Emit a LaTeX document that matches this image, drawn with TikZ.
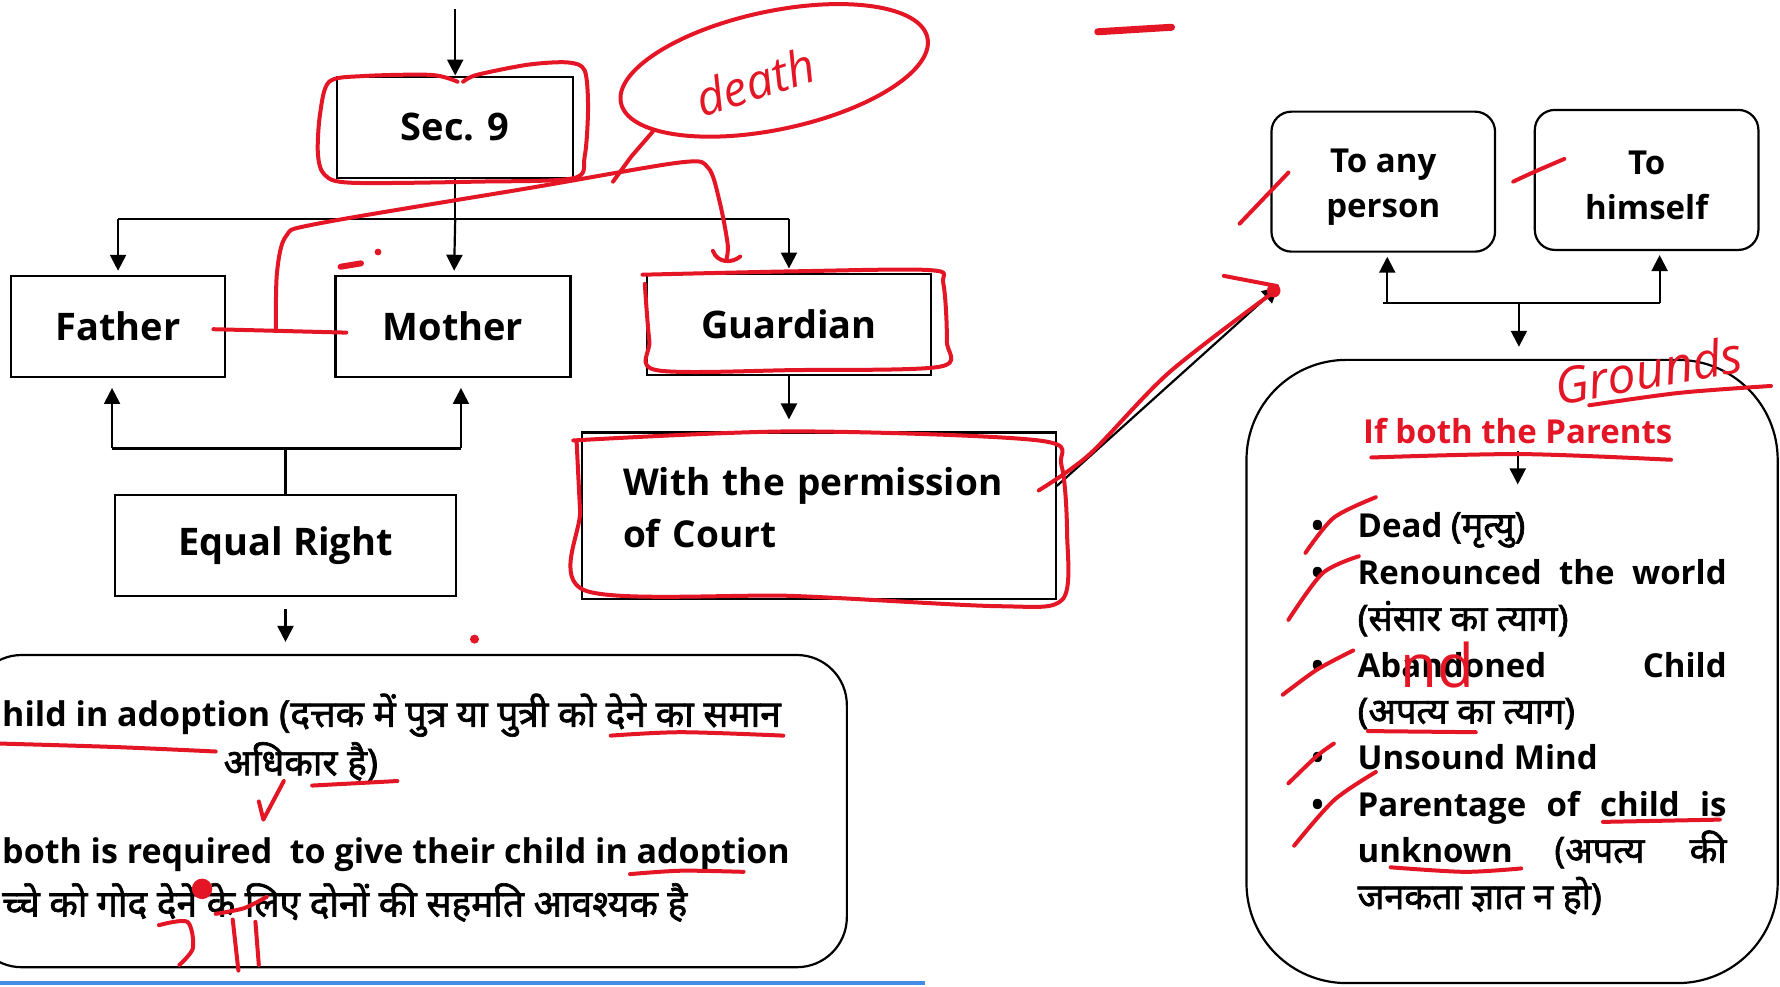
\documentclass[tikz,border=0pt]{standalone}
\usepackage{fontspec}
\setmainfont{Open Sans}
\newfontfamily\hin[Script=Devanagari,AutoFakeBold=1.8,Scale=1.09]{Noto Sans}
\usetikzlibrary{arrows.meta}
\definecolor{ink}{RGB}{228,22,38}
\definecolor{scr}{RGB}{70,140,230}
\newcommand\hi[1]{{\hin #1}}
\newcommand\itm{\par\leavevmode\llap{\textbullet\hspace{17pt}}}

\begin{document}
\begin{tikzpicture}[x=0.5676pt,y=-0.5676pt,>={Triangle[length=8pt,width=8pt]},
  line width=1.1pt,
  box/.style={draw,rectangle,inner sep=0pt,minimum height=50.5pt,
    font=\bfseries\fontsize{19}{24}\selectfont},
  rbox/.style={draw,rounded corners=10pt,inner sep=0pt,
    minimum width=111.8pt,minimum height=70pt},
  rtxt/.style={inner sep=0pt,align=center,font=\bfseries\fontsize{16.5}{22.5}\selectfont},
  txt/.style={inner sep=0pt,font=\bfseries\fontsize{17}{20}\selectfont},
  pen/.style={draw=ink,line width=2pt,line cap=round,line join=round}]
  \clip (0,0) rectangle (1568,869);
  \fill[white] (0,0) rectangle (1568,869);

  % boxes
  \node[box,minimum width=118pt] (sec) at (401,112) {Sec. 9};
  \node[box,minimum width=106.7pt] (fa) at (104,287.5) {Father};
  \node[box,minimum width=117.5pt] (mo) at (399,287.5) {Mother};
  \node[box,minimum width=141.9pt] (gu) at (695,285.5) {Guardian};
  \node[box,minimum width=170.8pt] (eq) at (251.5,480.5) {Equal Right};
  \node[box,minimum width=236.7pt,minimum height=83.4pt,text width=196pt,align=left,
    font=\bfseries\fontsize{18.5}{26}\selectfont] (pc) at (721.5,454.5)
    {With the permission\\of Court\vspace{8pt}};
  \node[rbox] (ta) at (1218.5,160) {};
  \node[rbox] (th) at (1450.5,158.5) {};
  \node[rtxt] (tat) at (1218.5,165) {To any\\person};
  \node[rtxt] (tht) at (1450.5,163) {To\\himself};
  \node[draw,rounded corners=25pt,minimum width=437.6pt,minimum height=156.1pt] (bl)
    at (360.5,714.5) {};
  \node[draw,rounded corners=50pt,minimum width=265.6pt,minimum height=311.6pt] (gr)
    at (1332,591.5) {};

  % texts of the big boxes
  \node[txt,anchor=west] (t1) at (1,630)
    {hild in adoption \hi{(दत्तक में पुत्र या पुत्री को देने का समान}};
  \node[txt] (t2) at (265,671) {\hi{अधिकार है)}};
  \node[txt,anchor=west] (t3) at (1,753) {both is required\ \ to give their child in adoption};
  \node[txt,anchor=west] (t4) at (1,795) {\hi{च्चे को गोद देने के लिए दोनों की सहमति आवश्यक है}};
  \node[txt,text=ink,font=\bfseries\fontsize{16.5}{20}\selectfont] (ifb) at (1337,380)
    {If both the Parents};
  \node[anchor=north west,inner sep=0pt,text width=184.5pt,align=justify,
    font=\bfseries\fontsize{16.5}{23.2}\selectfont] (ls) at (1195,432)
    {\parindent=0pt\hyphenpenalty=10000\tolerance=9999
    \itm Dead \hi{(मृत्यु)}
    \itm Renounced the world\linebreak \hi{(संसार का त्याग)}
    \itm Abandoned Child\linebreak \hi{(अपत्य का त्याग)}
    \itm Unsound Mind
    \itm Parentage of child is\linebreak unknown \hi{(अपत्य की}\linebreak
    \hi{जनकता ज्ञात न हो)}\par};

  % connectors
  \coordinate (in) at (401,8);
  \coordinate (bus) at (401,193);
  \coordinate (eqbus) at (251.5,395);
  \coordinate (fork) at (1338,267);
  \draw[->] (in) -- (sec);
  \draw (sec) -- (bus);
  \draw (fa |- bus) -- (gu |- bus);
  \draw[->,shorten >=2pt] (fa |- bus) -- (fa);
  \draw[->,shorten >=2pt] (bus) -- (mo);
  \draw[->,shorten >=2pt] (gu |- bus) -- (gu);
  \draw[->,shorten >=5pt] ([xshift=-3pt]fa.south |- eqbus) -- ([xshift=-3pt]fa.south);
  \draw[->,shorten >=5pt] ([xshift=4pt]mo.south |- eqbus) -- ([xshift=4pt]mo.south);
  \draw ([xshift=-3pt]fa.south |- eqbus) -- ([xshift=4pt]mo.south |- eqbus);
  \draw (eq) -- (eq |- eqbus);
  \draw[->,shorten <=6pt,shorten >=6pt] (eq) -- (eq |- bl.north);
  \draw[->,shorten >=6pt] (gu) -- (gu |- pc.north);
  \draw[->] ([yshift=15pt]pc.east) -- ([xshift=4pt,yshift=-17pt]ta.south west);
  \draw (ta |- fork) -- ([xshift=6.5pt]th.south |- fork);
  \draw[->,shorten >=2pt] ([xshift=2pt]ta.south |- fork) -- ([xshift=2pt]ta.south);
  \draw[->,shorten >=2pt] ([xshift=6.5pt]th.south |- fork) -- ([xshift=6.5pt]th.south);
  \draw[->,shorten >=6pt] (fork) -- (fork |- gr.north);
  \draw[->,shorten <=3pt,shorten >=3pt] (ifb) -- (ifb |- ls.north);

  % red pen marks
  \draw[pen] plot[smooth] coordinates {(403,72) (380,66) (320,67) (290,72) (282,100)
    (280,135) (286,154) (310,161) (420,160) (505,157) (515,138) (518,95) (515,62)
    (500,55) (465,57) (420,66) (408,72)};
  \draw[pen,rotate around={12:(682,62)}] (682,62) ellipse [x radius=138,y radius=52];
  \node[text=ink,font=\itshape\fontsize{24}{24}\selectfont,rotate=18] (dth) at (665,72) {death};
  \draw[pen] (575,116) -- (556,138) -- (540,160);
  \draw[pen] (188,290) -- (305,293);
  \draw[pen] plot[smooth] coordinates {(243,290) (244,240) (252,208) (280,197) (470,165)
    (600,143) (624,148) (634,178) (641,215) (640,228)};
  \draw[pen] (628,221) .. controls (632,232) and (645,232) .. (652,226);
  \draw[pen,line width=3pt] (300,235) -- (318,232);
  \fill[ink] (333,222) circle (3);
  \draw[pen] plot[smooth] coordinates {(566,242) (700,239) (820,238) (831,250) (834,300)
    (828,323) (700,326) (578,326) (572,300) (568,250)};
  \draw[pen] plot[smooth] coordinates {(505,388) (700,380) (915,388) (935,410) (940,470)
    (936,528) (880,534) (700,525) (515,520) (511,450) (508,390)};
  \draw[pen] plot[smooth] coordinates {(915,432) (960,400) (1030,328) (1125,255)};
  \draw[pen] (1078,243) -- (1125,252);
  \fill[ink] (1122,256) circle (6);
  \draw[pen] (1092,197) -- (1135,152);
  \draw[pen] (1333,160) .. controls (1350,152) .. (1378,140);
  \node[text=ink,font=\itshape\fontsize{25}{25}\selectfont,rotate=10] (grd) at (1452,326) {Grounds};
  \draw[pen] plot[smooth] coordinates {(1400,357) (1480,346) (1560,340)};
  \draw[pen] plot[smooth] coordinates {(1208,403) (1340,400) (1472,405)};
  \draw[pen] plot[smooth] coordinates {(1150,487) (1175,456) (1212,438)};
  \draw[pen] plot[smooth] coordinates {(1135,546) (1165,505) (1197,490)};
  \draw[pen] plot[smooth] coordinates {(1130,612) (1160,590) (1192,573)};
  \node[text=ink,font=\fontsize{30}{30}\selectfont] (nd) at (1266,586) {nd};
  \draw[pen] plot[smooth] coordinates {(1135,690) (1160,666) (1175,655)};
  \draw[pen] plot[smooth] coordinates {(1140,745) (1175,705) (1212,680)};
  \draw[pen] (1205,644) -- (1300,645);
  \draw[pen] (1412,724) -- (1515,722);
  \draw[pen] plot[smooth] coordinates {(1225,764) (1290,768) (1340,765)};
  \draw[pen] plot[smooth] coordinates {(0,655) (100,658) (190,662)};
  \draw[pen] plot[smooth] coordinates {(538,648) (600,645) (690,648)};
  \draw[pen] (275,692) -- (350,688);
  \draw[pen] (250,688) -- (232,722) -- (228,706);
  \draw[pen] plot[smooth] coordinates {(555,770) (600,767) (655,768)};
  \fill[ink] (178,783) circle (9);
  \draw[pen] plot[smooth] coordinates {(140,815) (165,812) (170,835) (158,850)};
  \draw[pen] plot[smooth] coordinates {(190,805) (215,800) (235,790)};
  \draw[pen] (205,810) -- (210,855);
  \draw[pen] (225,812) -- (228,850);
  \fill[ink] (418,563) circle (4);
  \draw[pen,line width=3.5pt] (967,28) -- (1032,24);
  \draw[scr,line width=2pt] (0,866) -- (815,866);
\end{tikzpicture}
\end{document}
